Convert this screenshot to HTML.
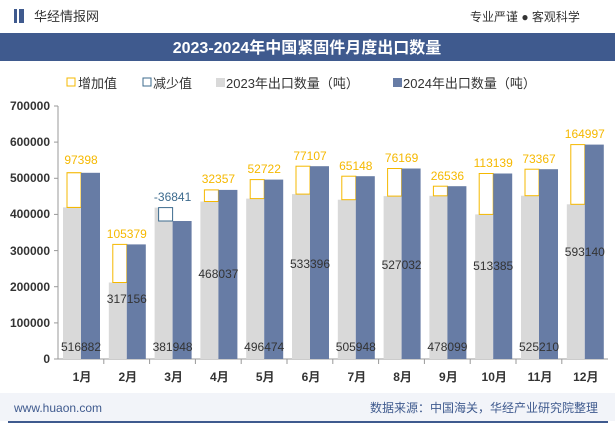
<!DOCTYPE html>
<html><head><meta charset="utf-8"><style>
body{margin:0;width:615px;height:427px;overflow:hidden;background:#fff}
</style></head><body>
<svg width="615" height="427" xmlns="http://www.w3.org/2000/svg" font-family="Liberation Sans, Noto Sans CJK SC, sans-serif">
<rect x="14" y="9" width="3" height="14" fill="#3f5a8e"/><rect x="19" y="9" width="5" height="14" fill="#3f5a8e"/>
<text x="34" y="21" font-size="13" fill="#333">华经情报网</text>
<text x="470" y="21" font-size="12" fill="#333">专业严谨 ● 客观科学</text>
<rect x="0" y="33" width="615" height="28" fill="#3f5a8e"/>
<text x="307" y="53" font-size="16" font-weight="bold" fill="#fff" text-anchor="middle">2023-2024年中国紧固件月度出口数量</text>
<g font-size="13" fill="#333">
<rect x="67" y="78" width="8" height="8" fill="none" stroke="#f5b800"/><text x="78" y="88">增加值</text>
<rect x="143" y="78" width="8" height="8" fill="none" stroke="#3d6b8e"/><text x="153" y="88">减少值</text>
<rect x="216" y="78" width="9" height="9" fill="#d9d9d9"/><text x="226" y="88">2023年出口数量（吨）</text>
<rect x="393" y="78" width="9" height="9" fill="#677ca5"/><text x="403" y="88">2024年出口数量（吨）</text>
</g>
<g stroke="#999">
<line x1="58" y1="106" x2="58" y2="359"/><line x1="58" y1="359" x2="608" y2="359"/>
<line x1="54" y1="106" x2="58" y2="106"/><line x1="54" y1="142.1" x2="58" y2="142.1"/><line x1="54" y1="178.3" x2="58" y2="178.3"/><line x1="54" y1="214.4" x2="58" y2="214.4"/><line x1="54" y1="250.6" x2="58" y2="250.6"/><line x1="54" y1="286.7" x2="58" y2="286.7"/><line x1="54" y1="322.9" x2="58" y2="322.9"/><line x1="54" y1="359" x2="58" y2="359"/>
<line x1="103.8" y1="359" x2="103.8" y2="364"/><line x1="149.6" y1="359" x2="149.6" y2="364"/><line x1="195.4" y1="359" x2="195.4" y2="364"/><line x1="241.2" y1="359" x2="241.2" y2="364"/><line x1="287" y1="359" x2="287" y2="364"/><line x1="332.8" y1="359" x2="332.8" y2="364"/><line x1="378.6" y1="359" x2="378.6" y2="364"/><line x1="424.4" y1="359" x2="424.4" y2="364"/><line x1="470.2" y1="359" x2="470.2" y2="364"/><line x1="516" y1="359" x2="516" y2="364"/><line x1="561.8" y1="359" x2="561.8" y2="364"/>
</g>
<g font-size="12" font-weight="bold" fill="#333" text-anchor="end">
<text x="50" y="110">700000</text><text x="50" y="146">600000</text><text x="50" y="182">500000</text><text x="50" y="218">400000</text><text x="50" y="255">300000</text><text x="50" y="291">200000</text><text x="50" y="327">100000</text><text x="50" y="363">0</text>
</g>
<g fill="#d9d9d9">
<rect x="63" y="207.4" width="18" height="151.6"/><rect x="108.8" y="282.5" width="18" height="76.5"/><rect x="154.6" y="207.6" width="18" height="151.4"/><rect x="200.4" y="201.5" width="18" height="157.5"/><rect x="246.2" y="198.6" width="18" height="160.4"/><rect x="292" y="194.1" width="18" height="164.9"/><rect x="337.8" y="199.7" width="18" height="159.3"/><rect x="383.6" y="196.1" width="18" height="162.9"/><rect x="429.4" y="195.8" width="18" height="163.2"/><rect x="475.2" y="214.4" width="18" height="144.6"/><rect x="521" y="195.7" width="18" height="163.3"/><rect x="566.8" y="204.3" width="18" height="154.7"/>
</g>
<g fill="#fff" stroke="#f5b800">
<rect x="67" y="172.8" width="14" height="34.6"/><rect x="112.8" y="244.4" width="14" height="38.1"/><rect x="204.4" y="189.9" width="14" height="11.6"/><rect x="250.2" y="179.6" width="14" height="19"/><rect x="296" y="166.2" width="14" height="27.9"/><rect x="341.8" y="176.2" width="14" height="23.5"/><rect x="387.6" y="168.5" width="14" height="27.6"/><rect x="433.4" y="186.2" width="14" height="9.6"/><rect x="479.2" y="173.5" width="14" height="40.9"/><rect x="525" y="169.2" width="14" height="26.5"/><rect x="570.8" y="144.6" width="14" height="59.7"/>
</g>
<rect x="158.6" y="207.6" width="14" height="13.4" fill="#fff" stroke="#3d6b8e"/>
<rect x="67" y="172.8" width="14" height="34.6" fill="#fff" stroke="#f5b800"/>
<g fill="#677ca5">
<rect x="81" y="172.8" width="19" height="186.2"/><rect x="126.8" y="244.4" width="19" height="114.6"/><rect x="172.6" y="221" width="19" height="138"/><rect x="218.4" y="189.9" width="19" height="169.1"/><rect x="264.2" y="179.6" width="19" height="179.4"/><rect x="310" y="166.2" width="19" height="192.8"/><rect x="355.8" y="176.2" width="19" height="182.8"/><rect x="401.6" y="168.5" width="19" height="190.5"/><rect x="447.4" y="186.2" width="19" height="172.8"/><rect x="493.2" y="173.5" width="19" height="185.5"/><rect x="539" y="169.2" width="19" height="189.8"/><rect x="584.8" y="144.6" width="19" height="214.4"/>
</g>
<g font-size="12" fill="#f5b800" text-anchor="middle">
<text x="81" y="164">97398</text><text x="126.8" y="238">105379</text><text x="218.4" y="183">32357</text><text x="264.2" y="173">52722</text><text x="310" y="160">77107</text><text x="355.8" y="170">65148</text><text x="401.6" y="162">76169</text><text x="447.4" y="180">26536</text><text x="493.2" y="167">113139</text><text x="539" y="163">73367</text><text x="584.8" y="138">164997</text>
</g>
<text x="172.6" y="201" font-size="12" fill="#3d6b8e" text-anchor="middle">-36841</text>
<g font-size="12" fill="#333" text-anchor="middle">
<text x="81" y="351">516882</text><text x="126.8" y="303">317156</text><text x="172.6" y="351">381948</text><text x="218.4" y="278">468037</text><text x="264.2" y="351">496474</text><text x="310" y="268">533396</text><text x="355.8" y="351">505948</text><text x="401.6" y="269">527032</text><text x="447.4" y="351">478099</text><text x="493.2" y="270">513385</text><text x="539" y="351">525210</text><text x="584.8" y="256">593140</text>
</g>
<g font-size="12" font-weight="bold" fill="#333" text-anchor="middle">
<text x="82" y="381">1月</text><text x="127.8" y="381">2月</text><text x="173.6" y="381">3月</text><text x="219.4" y="381">4月</text><text x="265.2" y="381">5月</text><text x="311" y="381">6月</text><text x="356.8" y="381">7月</text><text x="402.6" y="381">8月</text><text x="448.4" y="381">9月</text><text x="494.2" y="381">10月</text><text x="540" y="381">11月</text><text x="585.8" y="381">12月</text>
</g>
<rect x="0" y="393" width="615" height="28" fill="#f2f4f9"/>
<text x="14" y="412" font-size="12" fill="#3f5a8e">www.huaon.com</text>
<text x="598" y="412" font-size="12" fill="#3f5a8e" text-anchor="end">数据来源：中国海关，华经产业研究院整理</text>
<rect x="8" y="421" width="600" height="2" fill="#3f5a8e"/>
</svg>
</body></html>
